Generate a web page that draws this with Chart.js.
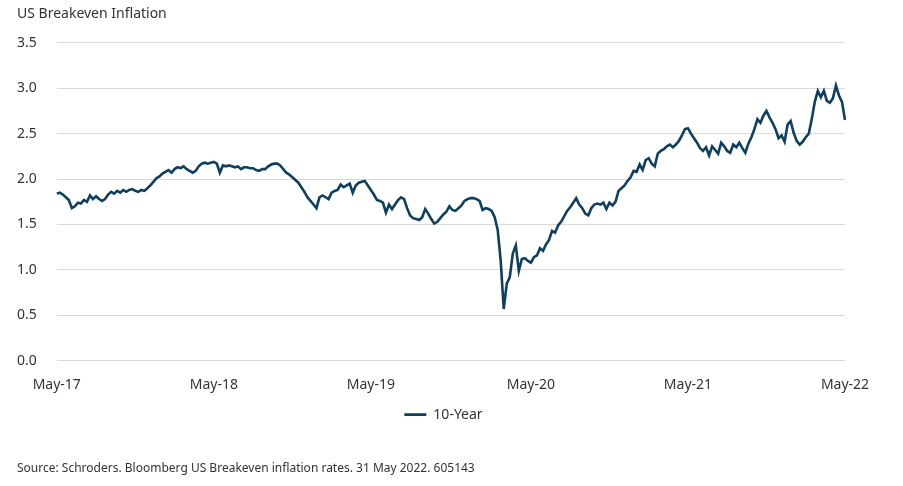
<!DOCTYPE html>
<html>
<head>
<meta charset="utf-8">
<script src="https://cdn.jsdelivr.net/npm/chart.js@4/dist/chart.umd.min.js"></script>
<style>
  body { margin: 0; background: #fff; }
  #wrap { width: 903px; height: 486px; position: relative; }
</style>
</head>
<body>
<div id="wrap"><canvas id="myChart"></canvas></div>
<script>
// weekly US 10-year breakeven, 30 May 2017 .. 31 May 2022
const startDate = new Date(Date.UTC(2017, 4, 30));
const weekCount = 262;

const breakeven10y = [
  1.84, 1.85, 1.83, 1.80, 1.77, 1.68, 1.70, 1.74, 1.73, 1.77,
  1.75, 1.82, 1.78, 1.81, 1.78, 1.76, 1.78, 1.83, 1.86, 1.84,
  1.87, 1.85, 1.88, 1.86, 1.88, 1.89, 1.87, 1.86, 1.88, 1.87,
  1.90, 1.93, 1.97, 2.01, 2.03, 2.06, 2.08, 2.10, 2.07, 2.11,
  2.13, 2.12, 2.14, 2.11, 2.09, 2.07, 2.09, 2.14, 2.17, 2.18,
  2.17, 2.18, 2.19, 2.17, 2.07, 2.15, 2.14, 2.15, 2.14, 2.13,
  2.14, 2.11, 2.13, 2.13, 2.12, 2.12, 2.10, 2.09, 2.11, 2.11,
  2.14, 2.16, 2.17, 2.17, 2.15, 2.11, 2.07, 2.05, 2.02, 1.99,
  1.96, 1.91, 1.86, 1.80, 1.76, 1.72, 1.68, 1.80, 1.82, 1.80,
  1.78, 1.85, 1.87, 1.88, 1.94, 1.91, 1.93, 1.95, 1.85, 1.93,
  1.96, 1.97, 1.98, 1.93, 1.88, 1.83, 1.77, 1.76, 1.74, 1.63,
  1.72, 1.67, 1.72, 1.77, 1.80, 1.78, 1.68, 1.60, 1.57, 1.56,
  1.55, 1.58, 1.67, 1.62, 1.56, 1.51, 1.53, 1.57, 1.61, 1.64,
  1.70, 1.66, 1.65, 1.68, 1.71, 1.76, 1.78, 1.79, 1.79, 1.78,
  1.76, 1.66, 1.68, 1.67, 1.65, 1.58, 1.44, 1.10, 0.57, 0.85,
  0.92, 1.18, 1.27, 0.99, 1.12, 1.13, 1.10, 1.08, 1.14, 1.16,
  1.24, 1.21, 1.28, 1.33, 1.43, 1.41, 1.49, 1.53, 1.59, 1.65,
  1.69, 1.74, 1.79, 1.72, 1.68, 1.62, 1.60, 1.68, 1.72, 1.73,
  1.72, 1.74, 1.67, 1.74, 1.71, 1.75, 1.87, 1.90, 1.93, 1.98,
  2.02, 2.09, 2.08, 2.16, 2.10, 2.21, 2.23, 2.17, 2.14, 2.28,
  2.31, 2.33, 2.36, 2.38, 2.35, 2.38, 2.42, 2.48, 2.55, 2.56,
  2.50, 2.45, 2.40, 2.34, 2.31, 2.35, 2.26, 2.36, 2.32, 2.28,
  2.40, 2.36, 2.31, 2.29, 2.38, 2.35, 2.40, 2.34, 2.29, 2.39,
  2.46, 2.55, 2.66, 2.62, 2.70, 2.75, 2.68, 2.62, 2.55, 2.45,
  2.48, 2.41, 2.60, 2.64, 2.51, 2.42, 2.38, 2.41, 2.46, 2.50,
  2.66, 2.85, 2.97, 2.90, 2.97, 2.86, 2.84, 2.89, 3.03, 2.92,
  2.85, 2.65
];

const yTicks = [0, 0.5, 1.0, 1.5, 2.0, 2.5, 3.0, 3.5];

const weeks = [];
for (let i = 0; i < weekCount; i++) {
  weeks.push(new Date(startDate.getTime() + i * 7 * 86400000));
}

// show "May-YY" on the week closest to 31 May of each year
function xLabel(i) {
  const d = weeks[i];
  const may31 = Date.UTC(d.getUTCFullYear(), 4, 31);
  if (Math.abs(d.getTime() - may31) <= 3 * 86400000) {
    return "May-" + String(d.getUTCFullYear()).slice(2);
  }
  return null;
}

const textColor = "#333333";
const font = { family: "'Noto Sans', 'Open Sans', sans-serif", size: 14 };

const ctx = document.getElementById("myChart");

new Chart(ctx, {
  type: "line",
  data: {
    labels: weeks.map((d) => d.toISOString().slice(0, 10)),
    datasets: [
      {
        label: "10-Year",
        data: breakeven10y,
        borderColor: "#0f3f5f",
        backgroundColor: "#0f3f5f",
        borderWidth: 2.6,
        pointRadius: 0,
        pointStyle: "line",
        tension: 0,
      },
    ],
  },
  options: {
    responsive: true,
    maintainAspectRatio: false,
    animation: false,
    layout: {
      padding: { left: 17, right: 33, top: 4, bottom: 10 },
    },
    scales: {
      x: {
        grid: { display: false },
        border: { display: false },
        afterFit: (scale) => {
          // leave room on the right like the original plot
          scale.paddingRight = 58;
        },
        ticks: {
          autoSkip: false,
          maxRotation: 0,
          color: textColor,
          font: font,
          padding: 8,
          callback: (v, i) => xLabel(i),
        },
      },
      y: {
        min: 0,
        max: 3.5,
        afterBuildTicks: (axis) => {
          axis.ticks = yTicks.map((v) => ({ value: v }));
        },
        grid: { color: "#d9d9d9", lineWidth: 1, drawTicks: false },
        border: { display: false },
        ticks: {
          color: textColor,
          font: font,
          crossAlign: "far",
          padding: 10,
          callback: (v) => Number(v).toFixed(1),
        },
      },
    },
    plugins: {
      title: {
        display: true,
        text: "US Breakeven Inflation",
        align: "start",
        color: textColor,
        font: { family: font.family, size: 14, weight: "normal" },
        padding: { top: 2, bottom: 20 },
      },
      subtitle: {
        display: true,
        position: "bottom",
        text: "Source: Schroders. Bloomberg US Breakeven inflation rates. 31 May 2022. 605143",
        align: "start",
        color: textColor,
        font: { family: font.family, size: 12 },
        padding: { top: 30, bottom: 0 },
      },
      legend: {
        position: "bottom",
        labels: {
          color: textColor,
          font: font,
          usePointStyle: true,
          pointStyleWidth: 22,
          padding: 6,
        },
      },
      tooltip: { enabled: false },
    },
  },
});
</script>
</body>
</html>
